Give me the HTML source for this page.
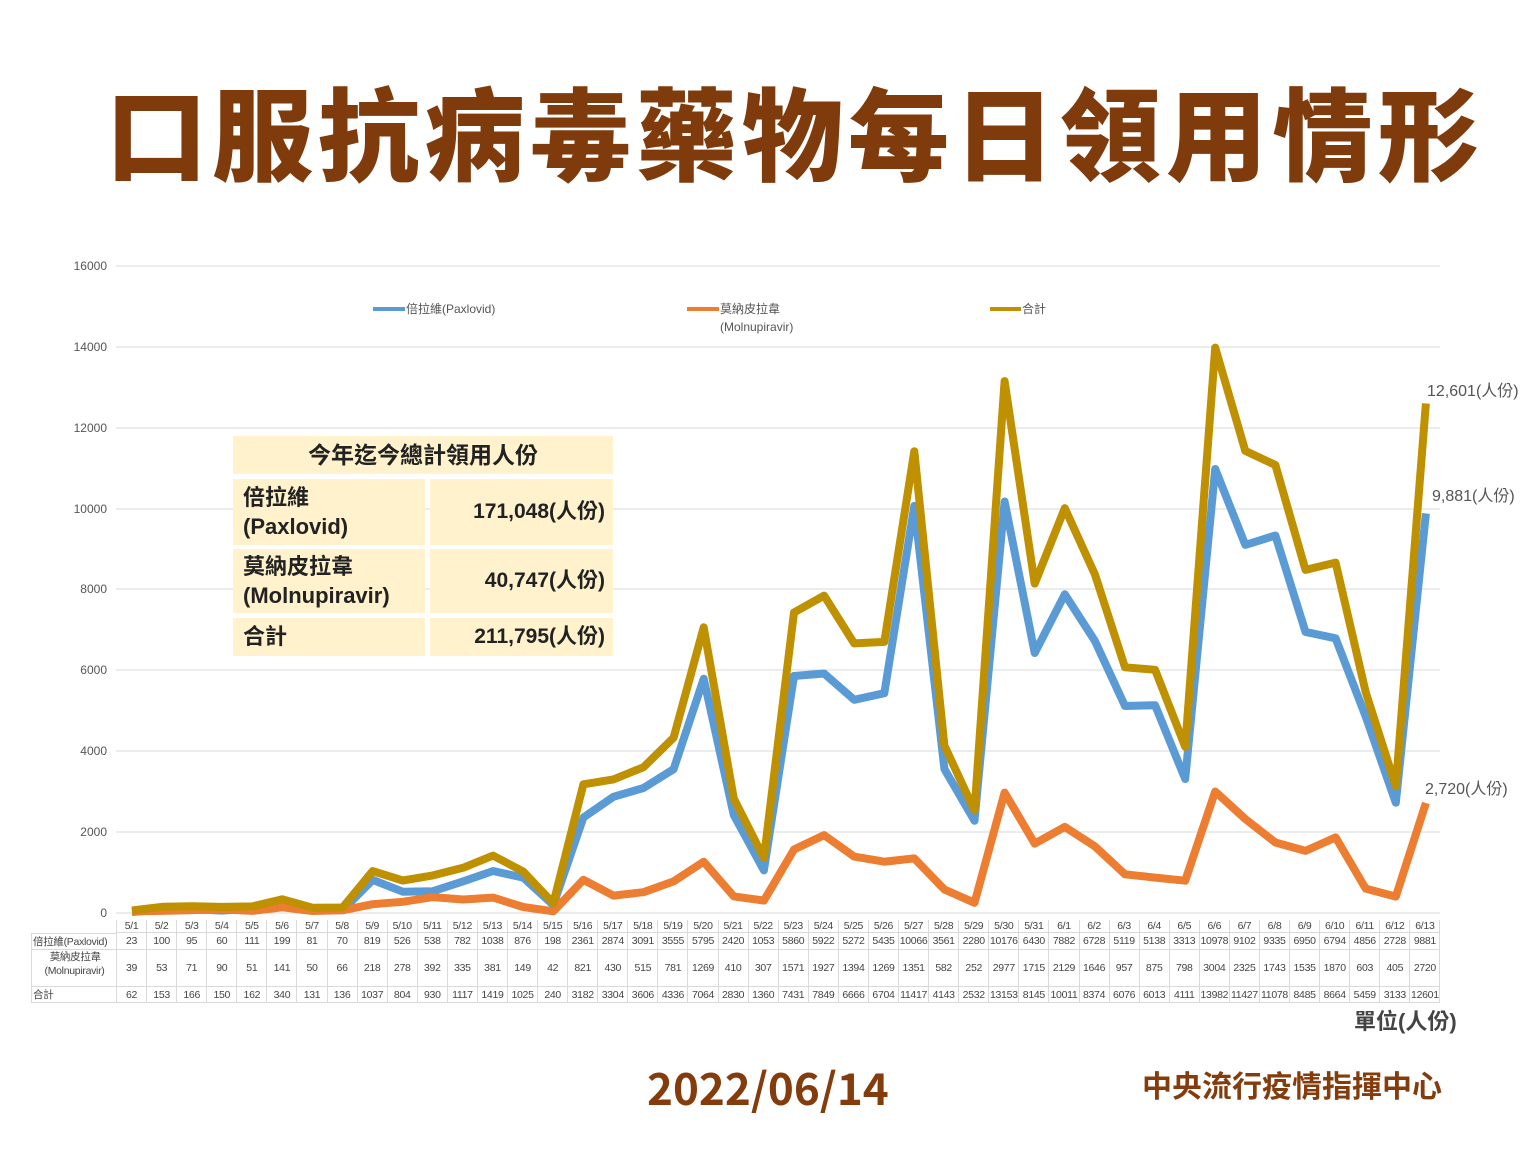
<!DOCTYPE html>
<html><head><meta charset="utf-8">
<style>
*{margin:0;padding:0;box-sizing:border-box}
body{width:1536px;height:1152px;background:#fff;position:relative;overflow:hidden;font-family:"Liberation Sans","Noto Sans CJK TC",sans-serif}
.title{position:absolute;left:50px;top:68px;width:1490px;text-align:center;font-size:101px;font-weight:900;color:#7f3b0c;letter-spacing:5px;line-height:125px;font-family:"Noto Sans CJK TC",sans-serif}
.grid{position:absolute;left:31px;display:grid;grid-template-columns:86px repeat(44,30.09px);font-size:10.5px;color:#444;font-family:"Liberation Sans","Noto Sans CJK TC",sans-serif}
.grid div{border-right:1px solid #d9d9d9;border-bottom:1px solid #d9d9d9;display:flex;align-items:center;justify-content:center;white-space:nowrap;overflow:visible;letter-spacing:-0.3px}
.grid .l{justify-content:flex-start;padding-left:1px;border-left:1px solid #d9d9d9}
.sum{position:absolute;left:233px;top:436px;width:380px;font-family:"Liberation Sans","Noto Sans CJK TC",sans-serif;font-weight:bold;color:#222}
.sum div{position:absolute;background:#fff2cc}
.ann{position:absolute;font-size:16px;color:#555;font-family:"Liberation Sans","Noto Sans CJK TC",sans-serif}
</style></head><body>
<div class="title">口服抗病毒藥物每日領用情形</div>
<svg width="1536" height="1152" style="position:absolute;left:0;top:0">
<g stroke="#d9d9d9" stroke-width="1">
<line x1="116" x2="1440" y1="266" y2="266"/><line x1="116" x2="1440" y1="347" y2="347"/><line x1="116" x2="1440" y1="428" y2="428"/><line x1="116" x2="1440" y1="509" y2="509"/><line x1="116" x2="1440" y1="589" y2="589"/><line x1="116" x2="1440" y1="670" y2="670"/><line x1="116" x2="1440" y1="751" y2="751"/><line x1="116" x2="1440" y1="832" y2="832"/><line x1="116" x2="1440" y1="913" y2="913"/>
</g>
<g font-size="12" fill="#555" text-anchor="end" font-family="Liberation Sans,sans-serif">
<text x="107" y="270">16000</text><text x="107" y="351">14000</text><text x="107" y="432">12000</text><text x="107" y="513">10000</text><text x="107" y="593">8000</text><text x="107" y="674">6000</text><text x="107" y="755">4000</text><text x="107" y="836">2000</text><text x="107" y="917">0</text>
</g>
<g font-size="12" fill="#555" font-family="Liberation Sans,Noto Sans CJK TC,sans-serif">
<line x1="373" x2="405" y1="309" y2="309" stroke="#5b9bd5" stroke-width="4"/><text x="406" y="313">倍拉維(Paxlovid)</text>
<line x1="687" x2="719" y1="309" y2="309" stroke="#ed7d31" stroke-width="4"/><text x="720" y="313">莫納皮拉韋</text><text x="720" y="331">(Molnupiravir)</text>
<line x1="990" x2="1021" y1="309" y2="309" stroke="#bf9000" stroke-width="4"/><text x="1022" y="313">合計</text>
</g>
<polyline id="pb" fill="none" stroke="#5b9bd5" stroke-width="8" stroke-linejoin="round"/>
<polyline id="po" fill="none" stroke="#ed7d31" stroke-width="8" stroke-linejoin="round"/>
<polyline id="pt" fill="none" stroke="#bf9000" stroke-width="8" stroke-linejoin="round"/>
</svg>
<div class="ann" style="left:1427px;top:377px">12,601(人份)</div>
<div class="ann" style="left:1432px;top:482px">9,881(人份)</div>
<div class="ann" style="left:1425px;top:775px">2,720(人份)</div>

<div class="sum">
<div style="left:0;top:0;width:380px;height:38px;text-align:center;font-size:23px;line-height:38px">今年迄今總計領用人份</div>
<div style="left:0;top:43px;width:192px;height:66px;font-size:22px;line-height:29px;padding:4px 10px">倍拉維<br>(Paxlovid)</div>
<div style="left:197px;top:43px;width:183px;height:66px;font-size:21px;line-height:66px;text-align:right;padding-right:8px">171,048(人份)</div>
<div style="left:0;top:113px;width:192px;height:64px;font-size:22px;line-height:29px;padding:3px 10px">莫納皮拉韋<br>(Molnupiravir)</div>
<div style="left:197px;top:113px;width:183px;height:64px;font-size:21px;line-height:64px;text-align:right;padding-right:8px">40,747(人份)</div>
<div style="left:0;top:182px;width:192px;height:38px;font-size:22px;line-height:38px;padding-left:10px">合計</div>
<div style="left:197px;top:182px;width:183px;height:38px;font-size:21px;line-height:38px;text-align:right;padding-right:8px">211,795(人份)</div>
</div>

<div class="grid" style="top:920px;grid-template-rows:13px 17px 37px 16px">
<div style="border:none;border-right:1px solid #d9d9d9"></div><div>5/1</div><div>5/2</div><div>5/3</div><div>5/4</div><div>5/5</div><div>5/6</div><div>5/7</div><div>5/8</div><div>5/9</div><div>5/10</div><div>5/11</div><div>5/12</div><div>5/13</div><div>5/14</div><div>5/15</div><div>5/16</div><div>5/17</div><div>5/18</div><div>5/19</div><div>5/20</div><div>5/21</div><div>5/22</div><div>5/23</div><div>5/24</div><div>5/25</div><div>5/26</div><div>5/27</div><div>5/28</div><div>5/29</div><div>5/30</div><div>5/31</div><div>6/1</div><div>6/2</div><div>6/3</div><div>6/4</div><div>6/5</div><div>6/6</div><div>6/7</div><div>6/8</div><div>6/9</div><div>6/10</div><div>6/11</div><div>6/12</div><div>6/13</div>
<div class="l" style="border-top:1px solid #d9d9d9">倍拉維(Paxlovid)</div><div>23</div><div>100</div><div>95</div><div>60</div><div>111</div><div>199</div><div>81</div><div>70</div><div>819</div><div>526</div><div>538</div><div>782</div><div>1038</div><div>876</div><div>198</div><div>2361</div><div>2874</div><div>3091</div><div>3555</div><div>5795</div><div>2420</div><div>1053</div><div>5860</div><div>5922</div><div>5272</div><div>5435</div><div>10066</div><div>3561</div><div>2280</div><div>10176</div><div>6430</div><div>7882</div><div>6728</div><div>5119</div><div>5138</div><div>3313</div><div>10978</div><div>9102</div><div>9335</div><div>6950</div><div>6794</div><div>4856</div><div>2728</div><div>9881</div>
<div class="l" style="flex-direction:column;line-height:14px">&nbsp;&nbsp;莫納皮拉韋<br>(Molnupiravir)</div><div>39</div><div>53</div><div>71</div><div>90</div><div>51</div><div>141</div><div>50</div><div>66</div><div>218</div><div>278</div><div>392</div><div>335</div><div>381</div><div>149</div><div>42</div><div>821</div><div>430</div><div>515</div><div>781</div><div>1269</div><div>410</div><div>307</div><div>1571</div><div>1927</div><div>1394</div><div>1269</div><div>1351</div><div>582</div><div>252</div><div>2977</div><div>1715</div><div>2129</div><div>1646</div><div>957</div><div>875</div><div>798</div><div>3004</div><div>2325</div><div>1743</div><div>1535</div><div>1870</div><div>603</div><div>405</div><div>2720</div>
<div class="l">合計</div><div>62</div><div>153</div><div>166</div><div>150</div><div>162</div><div>340</div><div>131</div><div>136</div><div>1037</div><div>804</div><div>930</div><div>1117</div><div>1419</div><div>1025</div><div>240</div><div>3182</div><div>3304</div><div>3606</div><div>4336</div><div>7064</div><div>2830</div><div>1360</div><div>7431</div><div>7849</div><div>6666</div><div>6704</div><div>11417</div><div>4143</div><div>2532</div><div>13153</div><div>8145</div><div>10011</div><div>8374</div><div>6076</div><div>6013</div><div>4111</div><div>13982</div><div>11427</div><div>11078</div><div>8485</div><div>8664</div><div>5459</div><div>3133</div><div>12601</div>
</div>

<div style="position:absolute;left:1354px;top:1004px;font-size:22px;font-weight:bold;color:#444">單位(人份)</div>
<div style="position:absolute;left:647px;top:1056px;font-size:44px;font-weight:bold;color:#843c0c;font-family:'Noto Sans CJK TC',sans-serif;line-height:60px">2022/06/14</div>
<div style="position:absolute;left:1142px;top:1062px;font-size:30px;font-weight:bold;color:#843c0c;font-family:'Noto Sans CJK TC',sans-serif;line-height:45px">中央流行疫情指揮中心</div>

<script>
var P=[23,100,95,60,111,199,81,70,819,526,538,782,1038,876,198,2361,2874,3091,3555,5795,2420,1053,5860,5922,5272,5435,10066,3561,2280,10176,6430,7882,6728,5119,5138,3313,10978,9102,9335,6950,6794,4856,2728,9881];
var M=[39,53,71,90,51,141,50,66,218,278,392,335,381,149,42,821,430,515,781,1269,410,307,1571,1927,1394,1269,1351,582,252,2977,1715,2129,1646,957,875,798,3004,2325,1743,1535,1870,603,405,2720];
var T=[62,153,166,150,162,340,131,136,1037,804,930,1117,1419,1025,240,3182,3304,3606,4336,7064,2830,1360,7431,7849,6666,6704,11417,4143,2532,13153,8145,10011,8374,6076,6013,4111,13982,11427,11078,8485,8664,5459,3133,12601];
function pts(a){return a.map(function(v,i){return (132+i*30.09).toFixed(1)+","+(913-v*0.04044).toFixed(1)}).join(" ")}
document.getElementById("pb").setAttribute("points",pts(P));
document.getElementById("po").setAttribute("points",pts(M));
document.getElementById("pt").setAttribute("points",pts(T));
</script>
</body></html>
